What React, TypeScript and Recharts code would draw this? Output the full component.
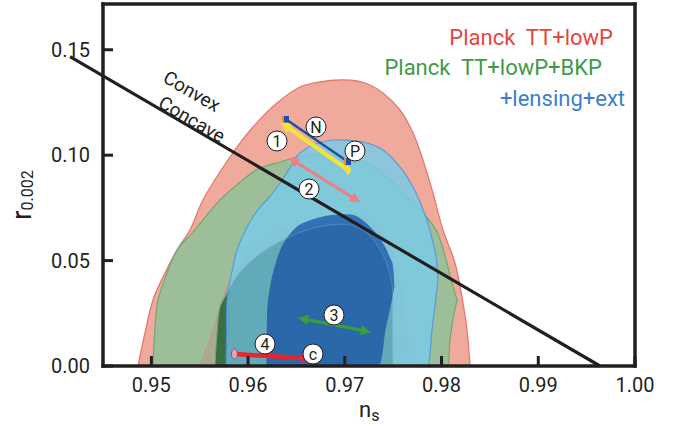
import React from 'react';
import { ComposedChart, Area, Line, XAxis, YAxis, ReferenceLine, ReferenceDot } from 'recharts';

// ---- axis ticks ----
const nsTicks = [0.95, 0.96, 0.97, 0.98, 0.99, 1.0];
const nsTopTicks = [0.95, 0.96, 0.97, 0.98, 0.99];
const rTicks = [0, 0.05, 0.1, 0.15];
const rRightTicks = [0.05, 0.1, 0.15];

// ---- contour regions (ns, lower r, upper r) ----
const red95 = [
  { ns: 0.94862, lo: 0, hi: 0 },
  { ns: 0.94934, lo: 0, hi: 0.01565 },
  { ns: 0.95017, lo: 0, hi: 0.0313 },
  { ns: 0.9512, lo: 0, hi: 0.04221 },
  { ns: 0.95265, lo: 0, hi: 0.05502 },
  { ns: 0.95399, lo: 0, hi: 0.06451 },
  { ns: 0.95534, lo: 0, hi: 0.07874 },
  { ns: 0.95813, lo: 0, hi: 0.09913 },
  { ns: 0.96051, lo: 0, hi: 0.11336 },
  { ns: 0.96299, lo: 0, hi: 0.12474 },
  { ns: 0.96537, lo: 0, hi: 0.13233 },
  { ns: 0.96743, lo: 0, hi: 0.1347 },
  { ns: 0.9695, lo: 0, hi: 0.13565 },
  { ns: 0.97126, lo: 0, hi: 0.13518 },
  { ns: 0.9726, lo: 0, hi: 0.13328 },
  { ns: 0.97395, lo: 0, hi: 0.12949 },
  { ns: 0.9757, lo: 0, hi: 0.12142 },
  { ns: 0.97705, lo: 0, hi: 0.11051 },
  { ns: 0.97808, lo: 0, hi: 0.09771 },
  { ns: 0.97911, lo: 0, hi: 0.08206 },
  { ns: 0.98015, lo: 0, hi: 0.06451 },
  { ns: 0.98139, lo: 0, hi: 0.04885 },
  { ns: 0.98211, lo: 0, hi: 0.03273 },
  { ns: 0.98263, lo: 0, hi: 0.01708 },
  { ns: 0.98294, lo: 0, hi: 0 },
];

const green95 = [
  { ns: 0.95017, lo: 0, hi: 0 },
  { ns: 0.95038, lo: 0, hi: 0.0185 },
  { ns: 0.95069, lo: 0, hi: 0.0313 },
  { ns: 0.95162, lo: 0, hi: 0.04411 },
  { ns: 0.95265, lo: 0, hi: 0.05502 },
  { ns: 0.9542, lo: 0, hi: 0.06308 },
  { ns: 0.9571, lo: 0, hi: 0.07874 },
  { ns: 0.95834, lo: 0, hi: 0.08395 },
  { ns: 0.96051, lo: 0, hi: 0.09202 },
  { ns: 0.96154, lo: 0, hi: 0.09439 },
  { ns: 0.9633, lo: 0, hi: 0.09676 },
  { ns: 0.96506, lo: 0, hi: 0.09913 },
  { ns: 0.96692, lo: 0, hi: 0.10032 },
  { ns: 0.96847, lo: 0, hi: 0.10008 },
  { ns: 0.97053, lo: 0, hi: 0.09913 },
  { ns: 0.97229, lo: 0, hi: 0.09628 },
  { ns: 0.97436, lo: 0, hi: 0.08965 },
  { ns: 0.97643, lo: 0, hi: 0.08016 },
  { ns: 0.97829, lo: 0, hi: 0.07162 },
  { ns: 0.97953, lo: 0, hi: 0.06356 },
  { ns: 0.98056, lo: 0, hi: 0.04885 },
  { ns: 0.98066, lo: 0, hi: 0.04696 },
  { ns: 0.98087, lo: 0.01233, hi: 0.04316 },
  { ns: 0.98118, lo: 0.02182, hi: 0.03776 },
  { ns: 0.9816, lo: 0.0313, hi: 0.0313 },
];

const red68 = [
  { ns: 0.95503, lo: 0, hi: 0 },
  { ns: 0.95637, lo: 0, hi: 0.01708 },
  { ns: 0.95782, lo: 0, hi: 0.03747 },
  { ns: 0.95916, lo: 0, hi: 0.04791 },
  { ns: 0.96226, lo: 0, hi: 0.06119 },
  { ns: 0.96568, lo: 0, hi: 0.06783 },
  { ns: 0.96847, lo: 0, hi: 0.07115 },
  { ns: 0.97053, lo: 0, hi: 0.0721 },
  { ns: 0.9726, lo: 0, hi: 0.06878 },
  { ns: 0.97416, lo: 0, hi: 0.06071 },
  { ns: 0.97519, lo: 0, hi: 0.04933 },
  { ns: 0.97581, lo: 0, hi: 0.03605 },
  { ns: 0.97622, lo: 0, hi: 0.02182 },
  { ns: 0.97674, lo: 0, hi: 0 },
];

const green68 = [
  { ns: 0.95658, lo: 0, hi: 0 },
  { ns: 0.95679, lo: 0, hi: 0.01565 },
  { ns: 0.9571, lo: 0, hi: 0.02798 },
  { ns: 0.95761, lo: 0, hi: 0.03273 },
  { ns: 0.95916, lo: 0, hi: 0.04459 },
  { ns: 0.96226, lo: 0, hi: 0.05644 },
  { ns: 0.96609, lo: 0, hi: 0.06451 },
  { ns: 0.96847, lo: 0, hi: 0.06688 },
  { ns: 0.97053, lo: 0, hi: 0.06688 },
  { ns: 0.9724, lo: 0, hi: 0.06261 },
  { ns: 0.97395, lo: 0, hi: 0.05265 },
  { ns: 0.97488, lo: 0, hi: 0.03842 },
  { ns: 0.97493, lo: 0, hi: 0.02182 },
  { ns: 0.97498, lo: 0, hi: 0 },
];

const blue95 = [
  { ns: 0.95772, lo: 0, hi: 0 },
  { ns: 0.95777, lo: 0, hi: 0.01565 },
  { ns: 0.95782, lo: 0, hi: 0.0313 },
  { ns: 0.95844, lo: 0, hi: 0.04696 },
  { ns: 0.95885, lo: 0, hi: 0.05502 },
  { ns: 0.95989, lo: 0, hi: 0.06593 },
  { ns: 0.96123, lo: 0, hi: 0.07541 },
  { ns: 0.96195, lo: 0, hi: 0.07874 },
  { ns: 0.9633, lo: 0, hi: 0.0868 },
  { ns: 0.96433, lo: 0, hi: 0.09391 },
  { ns: 0.96516, lo: 0, hi: 0.10008 },
  { ns: 0.96671, lo: 0, hi: 0.10482 },
  { ns: 0.96878, lo: 0, hi: 0.10719 },
  { ns: 0.97053, lo: 0, hi: 0.10696 },
  { ns: 0.97229, lo: 0, hi: 0.10577 },
  { ns: 0.97395, lo: 0, hi: 0.10245 },
  { ns: 0.9757, lo: 0, hi: 0.09439 },
  { ns: 0.97705, lo: 0, hi: 0.0849 },
  { ns: 0.97849, lo: 0, hi: 0.06925 },
  { ns: 0.9786, lo: 0, hi: 0.06754 },
  { ns: 0.97901, lo: 0.01708, hi: 0.06076 },
  { ns: 0.97943, lo: 0.03273, hi: 0.0517 },
  { ns: 0.97963, lo: 0.04079, hi: 0.04079 },
];

const blue68 = [
  { ns: 0.96195, lo: 0, hi: 0 },
  { ns: 0.96198, lo: 0, hi: 0.01708 },
  { ns: 0.96206, lo: 0, hi: 0.02893 },
  { ns: 0.96226, lo: 0, hi: 0.03605 },
  { ns: 0.96278, lo: 0, hi: 0.04696 },
  { ns: 0.96361, lo: 0, hi: 0.05739 },
  { ns: 0.96454, lo: 0, hi: 0.06356 },
  { ns: 0.96537, lo: 0, hi: 0.06688 },
  { ns: 0.96774, lo: 0, hi: 0.07068 },
  { ns: 0.9695, lo: 0, hi: 0.07162 },
  { ns: 0.97105, lo: 0, hi: 0.07115 },
  { ns: 0.9726, lo: 0, hi: 0.06593 },
  { ns: 0.97343, lo: 0, hi: 0.06128 },
  { ns: 0.97416, lo: 0.01708, hi: 0.05625 },
  { ns: 0.97467, lo: 0.02798, hi: 0.05094 },
  { ns: 0.97488, lo: 0.03273, hi: 0.04885 },
  { ns: 0.97508, lo: 0.03747, hi: 0.03747 },
];

// ---- model segments ----
const seg1 = [ { ns: 0.96392, r: 0.11383 }, { ns: 0.97033, r: 0.09296 } ];
const segN = [ { ns: 0.96387, r: 0.11715 }, { ns: 0.97028, r: 0.097 } ];
const seg2 = [ { ns: 0.96475, r: 0.09723 }, { ns: 0.97105, r: 0.07921 } ];
const seg3 = [ { ns: 0.96578, r: 0.02229 }, { ns: 0.97209, r: 0.0166 } ];
const seg4 = [ { ns: 0.95859, r: 0.00569 }, { ns: 0.96568, r: 0.00379 } ];
const boundary = [ { ns: 0.94159, r: 0.14671 }, { ns: 0.99638, r: 0 } ];

// ---- annotations ----
const circleLabels = [
  { t: '1', ns: 0.96299, r: 0.10672 },
  { t: 'N', ns: 0.96702, r: 0.11336 },
  { t: 'P', ns: 0.97105, r: 0.10198 },
  { t: '2', ns: 0.9663, r: 0.08395 },
  { t: '3', ns: 0.96888, r: 0.02419 },
  { t: '4', ns: 0.96175, r: 0.01043 },
  { t: 'c', ns: 0.96671, r: 0.00569 },
];
const slopeLabels = [
  { t: 'Convex', ns: 0.9542, r: 0.13044 },
  { t: 'Concave', ns: 0.9542, r: 0.11715 },
];
const legendItems = [
  { t: 'Planck  TT+lowP', color: '#e2463f' },
  { t: 'Planck  TT+lowP+BKP', color: '#3f9a48' },
  { t: '+lensing+ext', color: '#3b7fc8' },
];

const FONT = 'Roboto, "DejaVu Sans", sans-serif';
const INK = '#231f20';
const rng = (d: any) => [d.lo, d.hi];

// centripetal Catmull-Rom curve factory (same protocol as d3-shape curves)
function smoothCurve(ctx: any) {
  let pts: number[][] = [];
  let line = NaN;
  const EPS = 1e-9;
  return {
    areaStart() { line = 0; },
    areaEnd() { line = NaN; },
    lineStart() { pts = []; },
    point(x: number, y: number) { pts.push([+x, +y]); },
    lineEnd() {
      const n = pts.length;
      if (n > 0) {
        if (line) ctx.lineTo(pts[0][0], pts[0][1]); else ctx.moveTo(pts[0][0], pts[0][1]);
        for (let i = 0; i < n - 1; i++) {
          const p1 = pts[i], p2 = pts[i + 1];
          const p0 = i > 0 ? pts[i - 1] : p1;
          const p3 = i + 2 < n ? pts[i + 2] : p2;
          const d01 = Math.hypot(p1[0] - p0[0], p1[1] - p0[1]);
          const d12 = Math.hypot(p2[0] - p1[0], p2[1] - p1[1]);
          const d23 = Math.hypot(p3[0] - p2[0], p3[1] - p2[1]);
          const l01a = Math.sqrt(d01), l12a = Math.sqrt(d12), l23a = Math.sqrt(d23);
          const l01_2a = d01, l12_2a = d12, l23_2a = d23;
          let c1x = p1[0], c1y = p1[1], c2x = p2[0], c2y = p2[1];
          if (l01a > EPS) {
            const a = 2 * l01_2a + 3 * l01a * l12a + l12_2a;
            const m = 3 * l01a * (l01a + l12a);
            c1x = (p1[0] * a - p0[0] * l12_2a + p2[0] * l01_2a) / m;
            c1y = (p1[1] * a - p0[1] * l12_2a + p2[1] * l01_2a) / m;
          }
          if (l23a > EPS) {
            const b = 2 * l23_2a + 3 * l23a * l12a + l12_2a;
            const m = 3 * l23a * (l23a + l12a);
            c2x = (p2[0] * b + p1[0] * l23_2a - p3[0] * l12_2a) / m;
            c2y = (p2[1] * b + p1[1] * l23_2a - p3[1] * l12_2a) / m;
          }
          ctx.bezierCurveTo(c1x, c1y, c2x, c2y, p2[0], p2[1]);
        }
      }
      if (line || (line !== 0 && n === 1)) ctx.closePath();
      line = 1 - line;
    },
  };
}

const CircleMark = (label: string) => (p: any) => (
  <g>
    <circle cx={p.cx} cy={p.cy} r={10} fill="#fff" stroke={INK} strokeWidth={1} />
    <text x={p.cx} y={p.cy} dy="0.36em" textAnchor="middle" fontSize={16} fontFamily={FONT} fill={INK}>{label}</text>
  </g>
);
const SlopeText = (label: string) => (p: any) => (
  <text x={p.cx} y={p.cy} dy="0.36em" textAnchor="middle" fontSize={19} fontFamily={FONT} fill={INK}
    transform={`rotate(30.2 ${p.cx} ${p.cy})`}>{label}</text>
);

export default function App() {
  const common = { xAxisId: 'b', yAxisId: 'l', isAnimationActive: false, dot: false, activeDot: false };
  return (
    <div style={{ position: 'absolute', left: 0, top: 0, width: 680, height: 426, background: '#fff' }}>
      <ComposedChart width={680} height={426} margin={{ top: 3, right: 44, bottom: 30, left: 43 }} style={{ fontFamily: FONT }}>
        <defs>
          <marker id="triY" viewBox="0 0 10 10" refX="4" refY="5" markerWidth="12" markerHeight="11" markerUnits="userSpaceOnUse" orient="auto-start-reverse">
            <path d="M0,0 L10,5 L0,10 z" fill="#f2e33a" />
          </marker>
          <marker id="diaY" viewBox="0 0 7 11" refX="3.5" refY="5.5" markerWidth="7" markerHeight="11" markerUnits="userSpaceOnUse" orient="0">
            <path d="M0,5.5 L3.5,0 L7,5.5 L3.5,11 z" fill="#f2e33a" />
          </marker>
          <marker id="sqB" viewBox="0 0 7 7" refX="3.5" refY="3.5" markerWidth="7" markerHeight="7" markerUnits="userSpaceOnUse" orient="0">
            <rect x="0" y="0" width="2" height="7" fill="#f08a30" />
            <rect x="2" y="0" width="5" height="7" fill="#1d4fa5" />
          </marker>
          <marker id="triP" viewBox="0 0 10 10" refX="4" refY="5" markerWidth="11" markerHeight="10" markerUnits="userSpaceOnUse" orient="auto-start-reverse">
            <path d="M0,0 L10,5 L0,10 z" fill="#f07e80" />
          </marker>
          <marker id="triG" viewBox="0 0 10 10" refX="4" refY="5" markerWidth="11" markerHeight="10" markerUnits="userSpaceOnUse" orient="auto-start-reverse">
            <path d="M0,0 L10,5 L0,10 z" fill="#3aa03c" />
          </marker>
          <marker id="ellA" viewBox="0 0 8 12" refX="4" refY="6" markerWidth="8" markerHeight="12" markerUnits="userSpaceOnUse" orient="0">
            <ellipse cx="4" cy="6" rx="3" ry="5" fill="#f0a0a8" stroke="#8a4aa8" strokeWidth="1" />
          </marker>
          <marker id="ellB" viewBox="0 0 8 12" refX="4" refY="6" markerWidth="8" markerHeight="12" markerUnits="userSpaceOnUse" orient="0">
            <ellipse cx="4" cy="6" rx="3" ry="5" fill="#e8262a" stroke="#8a4aa8" strokeWidth="1" />
          </marker>
        </defs>

        <XAxis xAxisId="b" dataKey="ns" type="number" orientation="bottom" domain={[0.945, 1.0]} allowDataOverflow
          ticks={nsTicks} interval={0} tickFormatter={(v: number) => v.toFixed(2)} height={30}
          tickSize={-10} tickMargin={22}
          tick={{ fill: INK, fontSize: 20, fontFamily: FONT }}
          axisLine={{ stroke: INK, strokeWidth: 3.5, strokeLinecap: 'square' }} tickLine={{ stroke: INK, strokeWidth: 3 }} />
        <XAxis xAxisId="t" dataKey="ns" type="number" orientation="top" domain={[0.945, 1.0]} allowDataOverflow
          ticks={nsTopTicks} interval={0} height={1} tick={false} tickSize={-10}
          axisLine={{ stroke: INK, strokeWidth: 3.5, strokeLinecap: 'square' }} tickLine={{ stroke: INK, strokeWidth: 3 }} />
        <YAxis yAxisId="l" type="number" orientation="left" domain={[0, 0.1717]} allowDataOverflow
          ticks={rTicks} interval={0} tickFormatter={(v: number) => v.toFixed(2)} width={60}
          tickSize={-10} tickMargin={23}
          tick={{ fill: INK, fontSize: 20, fontFamily: FONT }}
          axisLine={{ stroke: INK, strokeWidth: 3.5, strokeLinecap: 'square' }} tickLine={{ stroke: INK, strokeWidth: 3 }} />
        <YAxis yAxisId="r" type="number" orientation="right" domain={[0, 0.1717]} allowDataOverflow
          ticks={rRightTicks} interval={0} width={1} tick={false} tickSize={-10}
          axisLine={{ stroke: INK, strokeWidth: 3.5, strokeLinecap: 'square' }} tickLine={{ stroke: INK, strokeWidth: 3 }} />

        <Area {...common} type={smoothCurve as any} data={red95} dataKey={rng} fill="#f0aa9c" fillOpacity={1} stroke="#e27a72" strokeWidth={1.3} />
        <Area {...common} type={smoothCurve as any} data={green95} dataKey={rng} fill="#9cbf99" fillOpacity={1} stroke="#6aa86a" strokeWidth={1.1} />
        <Area {...common} type={smoothCurve as any} data={red68} dataKey={rng} fill="#dd6567" fillOpacity={0.2} stroke="#d08a8a" strokeWidth={0.8} />
        <Area {...common} type={smoothCurve as any} data={green68} dataKey={rng} fill="#3f7b3f" fillOpacity={1} stroke="#6e9a6e" strokeWidth={0.8} />
        <Area {...common} type={smoothCurve as any} data={blue95} dataKey={rng} fill="#79cae8" fillOpacity={0.82} stroke="#5b9bd5" strokeWidth={1.2} />
        <Area {...common} type={smoothCurve as any} data={blue68} dataKey={rng} fill="#2a6cb4" fillOpacity={0.93} stroke="#2a6cb4" strokeWidth={0.8} />
        <Area {...common} type={smoothCurve as any} data={green68} dataKey={rng} fill="#0b2d55" fillOpacity={0.12} stroke="#9ab0c8" strokeOpacity={0.5} strokeWidth={0.7} />

        <ReferenceLine xAxisId="b" yAxisId="l" ifOverflow="visible"
          segment={[{ x: boundary[0].ns, y: boundary[0].r }, { x: boundary[1].ns, y: boundary[1].r }]}
          stroke={INK} strokeWidth={3.2} />

        <Line {...common} type="linear" data={seg1} dataKey="r" stroke="#f2e33a" strokeWidth={4.5} markerStart="url(#triY)" markerEnd="url(#diaY)" />
        <Line {...common} type="linear" data={segN} dataKey="r" stroke="#1d4fa5" strokeWidth={2.5} markerStart="url(#sqB)" markerEnd="url(#sqB)" />
        <Line {...common} type="linear" data={seg2} dataKey="r" stroke="#f07e80" strokeWidth={3} markerStart="url(#triP)" markerEnd="url(#triP)" />
        <Line {...common} type="linear" data={seg3} dataKey="r" stroke="#3aa03c" strokeWidth={3} markerStart="url(#triG)" markerEnd="url(#triG)" />
        <Line {...common} type="linear" data={seg4} dataKey="r" stroke="#e8262a" strokeWidth={4.5} markerStart="url(#ellA)" markerEnd="url(#ellB)" />

        {slopeLabels.map((s) => (
          <ReferenceDot key={s.t} xAxisId="b" yAxisId="l" x={s.ns} y={s.r} r={0} ifOverflow="visible" shape={SlopeText(s.t)} />
        ))}
        {circleLabels.map((c) => (
          <ReferenceDot key={c.t} xAxisId="b" yAxisId="l" x={c.ns} y={c.r} r={10} ifOverflow="visible" shape={CircleMark(c.t)} />
        ))}
      </ComposedChart>

      <svg width={680} height={426} style={{ position: 'absolute', left: 0, top: 0, pointerEvents: 'none' }} fontFamily={FONT}>
        <text x={613} y={45} textAnchor="end" fill={legendItems[0].color} fontSize={22} xmlSpace="preserve" style={{ whiteSpace: 'pre' }}>{legendItems[0].t}</text>
        <text x={602} y={75} textAnchor="end" fill={legendItems[1].color} fontSize={22} xmlSpace="preserve" style={{ whiteSpace: 'pre' }}>{legendItems[1].t}</text>
        <text x={625} y={106} textAnchor="end" fill={legendItems[2].color} fontSize={22}>{legendItems[2].t}</text>
        <text x={359} y={417} fill={INK} fontSize={22}>n<tspan fontSize={16} dy={4}>s</tspan></text>
        <text transform="translate(31,220) rotate(-90)" fill={INK} fontSize={28}>r<tspan fontSize={16} dy={2}>0.002</tspan></text>
      </svg>
    </div>
  );
}
